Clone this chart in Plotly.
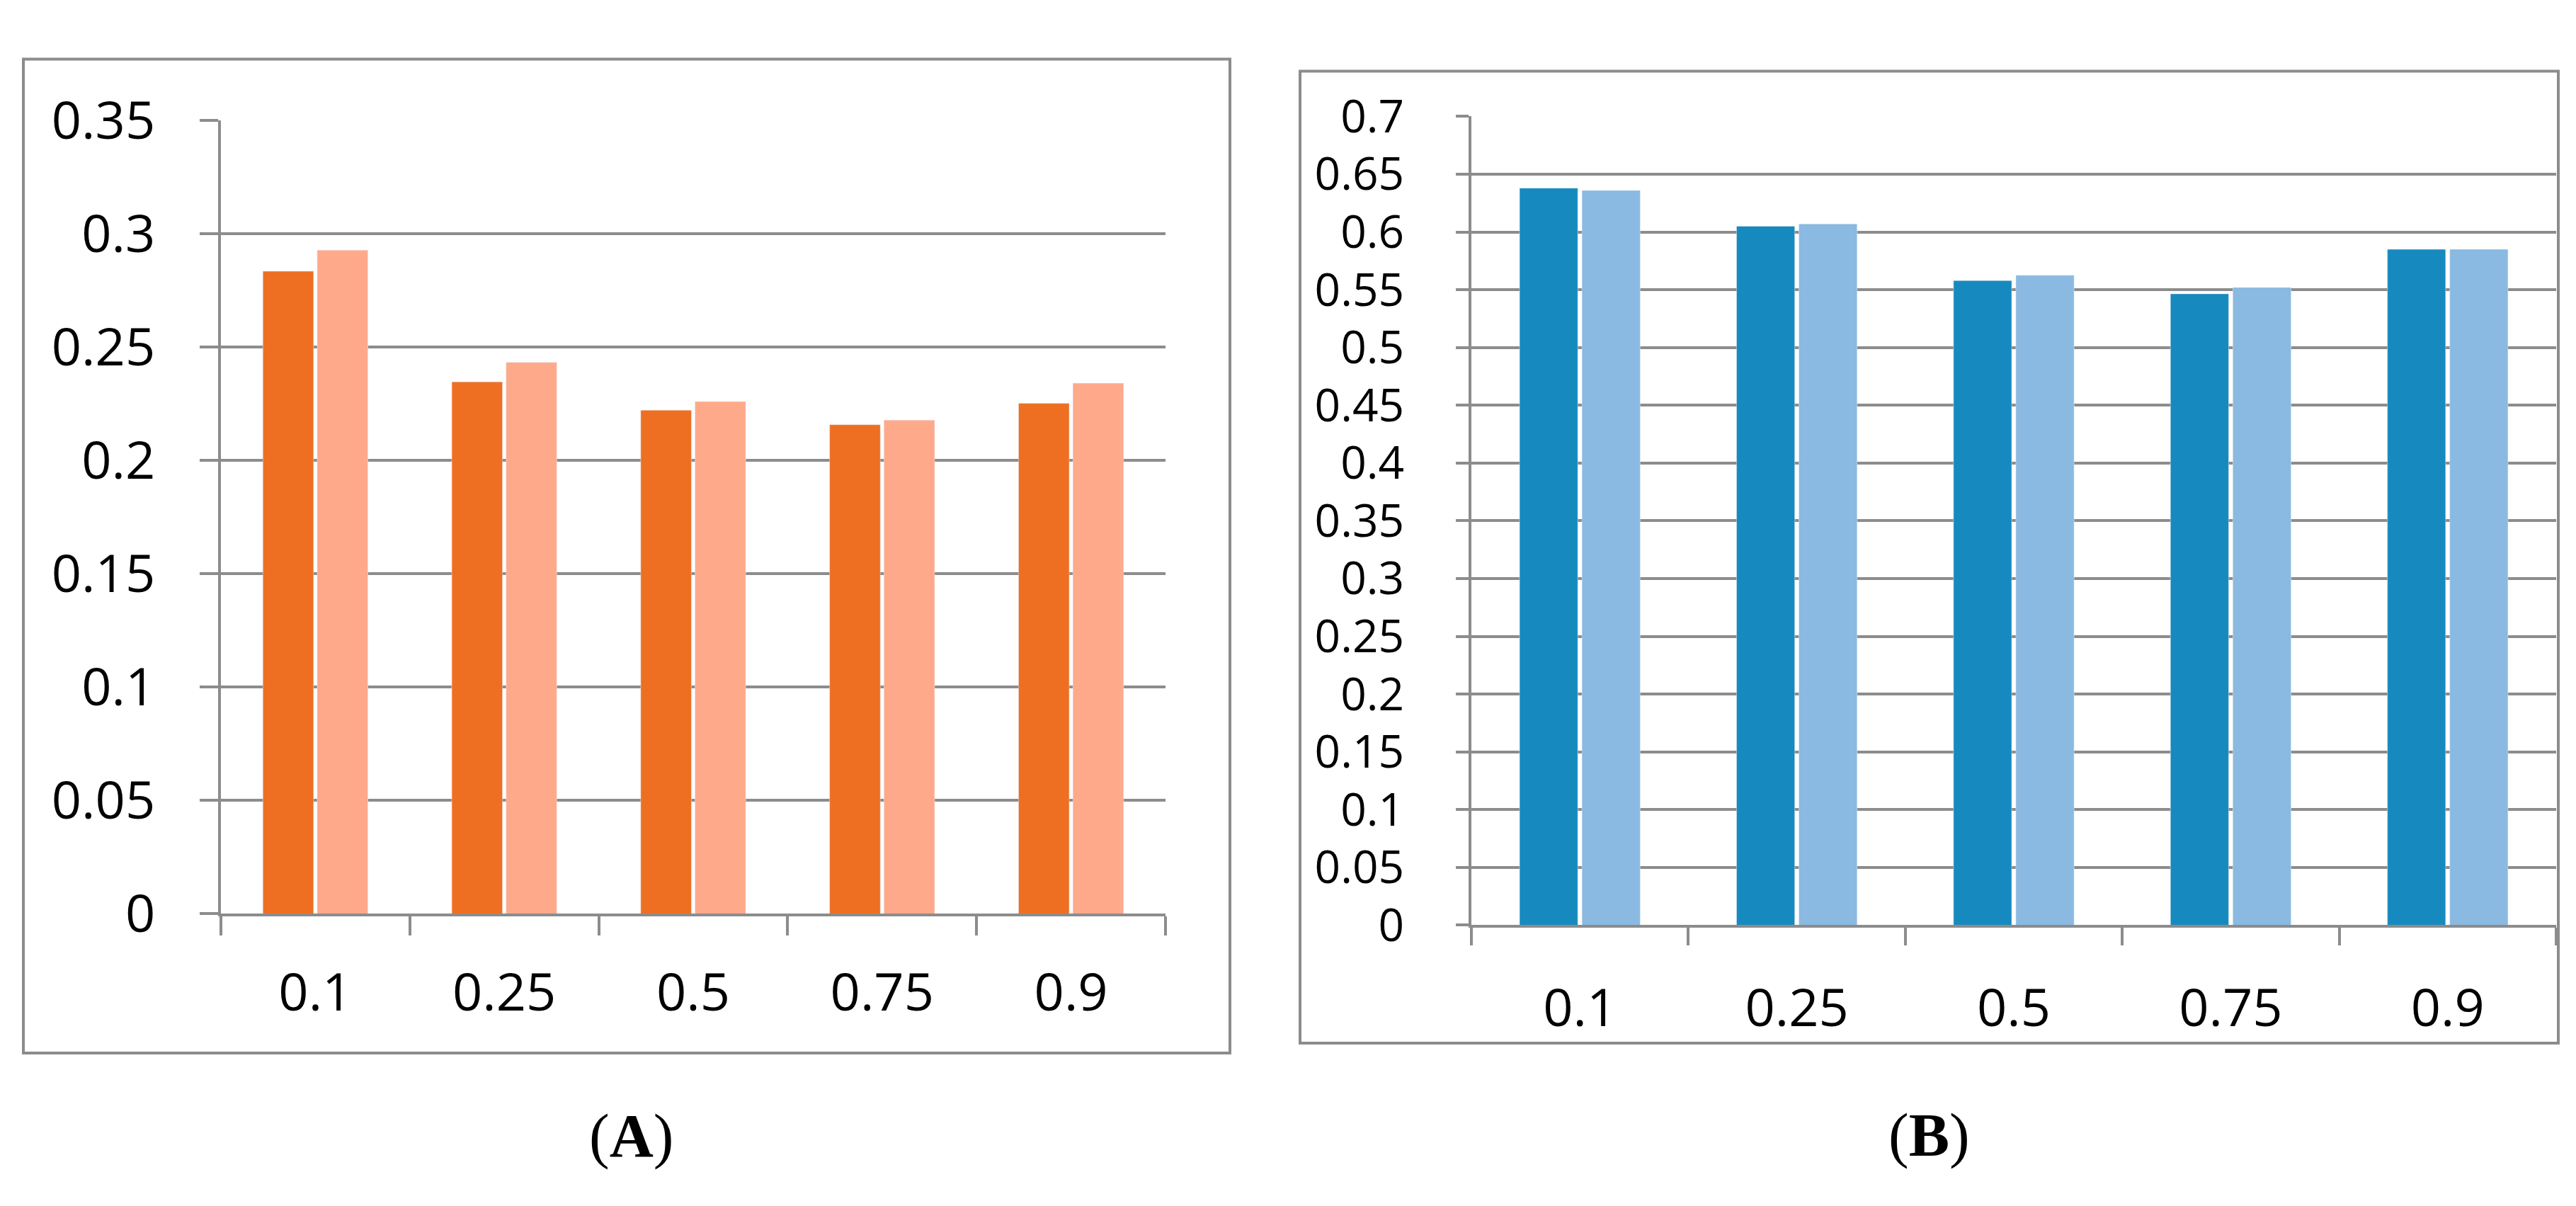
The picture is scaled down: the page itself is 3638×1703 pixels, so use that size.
import plotly.graph_objects as go

W, H = 3638, 1703

categories = ["0.1", "0.25", "0.5", "0.75", "0.9"]

a_dark = [0.2835, 0.2347, 0.2222, 0.2158, 0.2252]
a_light = [0.2928, 0.2433, 0.2260, 0.2178, 0.2341]

b_dark = [0.638, 0.605, 0.558, 0.5465, 0.585]
b_light = [0.636, 0.607, 0.5625, 0.552, 0.585]

a_ticks = [0, 0.05, 0.1, 0.15, 0.2, 0.25, 0.3, 0.35]
a_ticktext = ["0", "0.05", "0.1", "0.15", "0.2", "0.25", "0.3", "0.35"]
b_ticks = [0, 0.05, 0.1, 0.15, 0.2, 0.25, 0.3, 0.35, 0.4, 0.45, 0.5, 0.55, 0.6, 0.65, 0.7]
b_ticktext = ["0", "0.05", "0.1", "0.15", "0.2", "0.25", "0.3", "0.35", "0.4",
              "0.45", "0.5", "0.55", "0.6", "0.65", "0.7"]

GREY = "#8C8C8C"
FONT = "Open Sans"


def px_x(v):
    return v / W


def px_y(v):
    return 1 - v / H


fig = go.Figure()
fig.add_trace(go.Bar(x=categories, y=a_dark, marker=dict(color="#EE6F22"),
                     xaxis="x", yaxis="y", offsetgroup="a1"))
fig.add_trace(go.Bar(x=categories, y=a_light, marker=dict(color="#FFA98B"),
                     xaxis="x", yaxis="y", offsetgroup="a2"))
fig.add_trace(go.Bar(x=categories, y=b_dark, marker=dict(color="#168ABF"),
                     xaxis="x2", yaxis="y2", offsetgroup="b1"))
fig.add_trace(go.Bar(x=categories, y=b_light, marker=dict(color="#8AB9E1"),
                     xaxis="x2", yaxis="y2", offsetgroup="b2"))

common_x = dict(type="category", showline=True, linecolor=GREY, linewidth=4,
                ticks="outside", tickson="boundaries", tickwidth=4, tickcolor=GREY,
                showgrid=False, zeroline=False,
                tickfont=dict(family=FONT, size=74, color="black"))
common_y = dict(showline=True, linecolor=GREY, linewidth=4, ticks="outside",
                tickwidth=4, tickcolor=GREY, showgrid=True, gridcolor=GREY,
                gridwidth=4, zeroline=False)

fig.update_layout(
    width=W, height=H, autosize=False,
    margin=dict(l=0, r=0, t=0, b=0),
    paper_bgcolor="white", plot_bgcolor="white",
    showlegend=False, barmode="group", bargap=0.425, bargroupgap=0.067,
    xaxis=dict(common_x, domain=[px_x(304), px_x(1638)], anchor="y",
               ticklen=27, ticklabelstandoff=44),
    yaxis=dict(common_y, domain=[px_y(1307), px_y(116)], anchor="x",
               range=[0, 0.35], tickvals=a_ticks, ticktext=a_ticktext,
               ticklen=26, ticklabelstandoff=48,
               tickfont=dict(family=FONT, size=74, color="black")),
    xaxis2=dict(common_x, domain=[px_x(2070), px_x(3602)], anchor="y2",
                ticklen=25, ticklabelstandoff=50),
    yaxis2=dict(common_y, domain=[px_y(1324), px_y(110)], anchor="x2",
                range=[0, 0.7], tickvals=b_ticks, ticktext=b_ticktext,
                ticklen=18, ticklabelstandoff=60,
                tickfont=dict(family=FONT, size=64, color="black")),
    shapes=[
        dict(type="rect", xref="paper", yref="paper",
             x0=px_x(25), x1=px_x(1729), y0=px_y(1516), y1=px_y(24),
             line=dict(color=GREY, width=4), layer="below"),
        dict(type="rect", xref="paper", yref="paper",
             x0=px_x(1828), x1=px_x(3605), y0=px_y(1501), y1=px_y(42),
             line=dict(color=GREY, width=4), layer="below"),
    ],
    annotations=[
        dict(text="(<b>A</b>)", xref="paper", yref="paper", x=px_x(883), y=px_y(1640),
             showarrow=False, xanchor="center", yanchor="middle",
             font=dict(family="Liberation Serif", size=86, color="black")),
        dict(text="(<b>B</b>)", xref="paper", yref="paper", x=px_x(2716), y=px_y(1639),
             showarrow=False, xanchor="center", yanchor="middle",
             font=dict(family="Liberation Serif", size=86, color="black")),
    ],
)

fig.write_html("out.html")
